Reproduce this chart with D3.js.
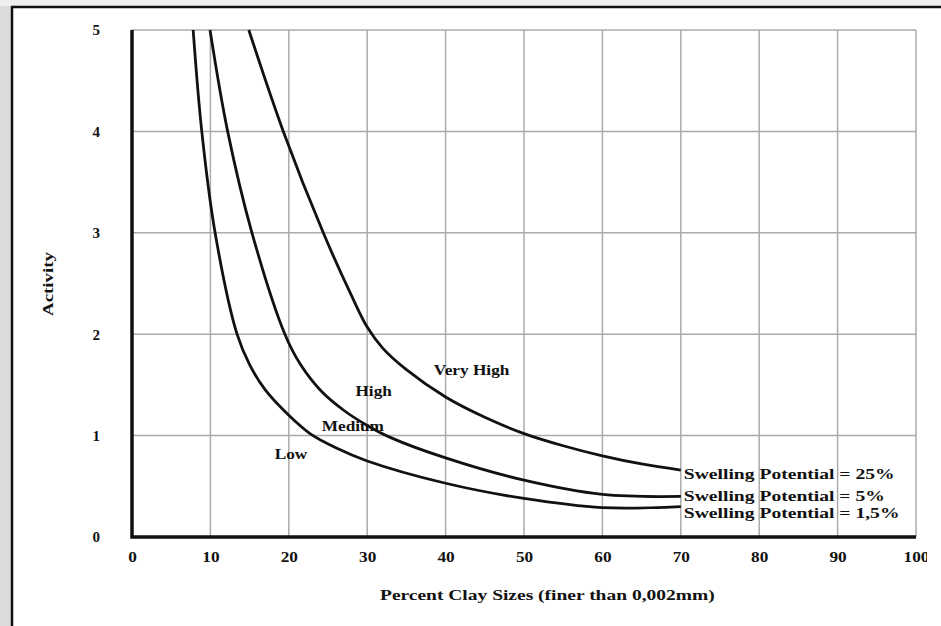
<!DOCTYPE html>
<html>
<head>
<meta charset="utf-8">
<script src="https://cdn.jsdelivr.net/npm/d3@7"></script>
<style>
  body { margin: 0; background: #fff; }
  svg text { font-family: "Liberation Serif", "Times New Roman", serif; font-weight: bold; fill: #111; }
</style>
</head>
<body>
<div id="chart"></div>
<script>
var width = 941,
    height = 626;

// ******* data ******************************* //
var xTicks = [0, 10, 20, 30, 40, 50, 60, 70, 80, 90, 100];
var yTicks = [0, 1, 2, 3, 4, 5];

var lowX  = [7.8, 8.9, 10.6, 13.4, 15, 17, 20, 22.7, 26, 30, 40, 50, 60, 70];
var lowY  = [5, 4, 3, 2, 1.7, 1.45, 1.2, 1.02, 0.88, 0.75, 0.53, 0.38, 0.29, 0.30];
var medX  = [9.95, 12.2, 15.3, 19.5, 21.5, 24, 27, 30, 33, 40, 50, 60, 70];
var medY  = [5, 4, 3, 2, 1.7, 1.45, 1.25, 1.1, 0.98, 0.78, 0.56, 0.42, 0.40];
var highX = [14.9, 19.3, 24.4, 28, 30, 32, 35, 40, 45, 50, 55, 60, 65, 70];
var highY = [5, 4, 3, 2.38, 2.07, 1.86, 1.65, 1.38, 1.18, 1.02, 0.9, 0.8, 0.72, 0.66];

var curveNames = ["Swelling Potential = 1,5%", "Swelling Potential = 5%", "Swelling Potential = 25%"];
var zoneNames = ["Low", "Medium", "High", "Very High"];
var zoneAt = [[18.2, 0.77], [24.2, 1.05], [28.5, 1.39], [38.5, 1.6]];

var margin = {left: 132, top: 30, right: 25, bottom: 89};

var svg = d3.select("#chart").append("svg")
    .attr("width", width)
    .attr("height", height);

// ******* frame ********* //
svg.append("rect").attr("x", 0).attr("y", 0).attr("width", 12).attr("height", height).attr("fill", "#dcdcdc");
svg.append("rect").attr("x", 0).attr("y", 0).attr("width", width).attr("height", 6).attr("fill", "#efefef");
svg.append("path").attr("d", "M12," + height + "V7H" + width)
    .attr("fill", "none").attr("stroke", "#111").attr("stroke-width", 2.5);

var x = d3.scaleLinear().domain([0, 100]).range([margin.left, width - margin.right]);
var y = d3.scaleLinear().domain([0, 5]).range([height - margin.bottom, margin.top]);

// ******* grid ********* //
var grid = svg.append("g").attr("class", "grid");
grid.selectAll("line.v").data(xTicks.slice(1)).enter().append("line")
    .attr("x1", function(d) { return x(d); }).attr("x2", function(d) { return x(d); })
    .attr("y1", y(0)).attr("y2", y(5))
    .attr("stroke", "#ababab").attr("stroke-width", 1.5);
grid.selectAll("line.h").data(yTicks.slice(1)).enter().append("line")
    .attr("x1", x(0)).attr("x2", x(100))
    .attr("y1", function(d) { return y(d); }).attr("y2", function(d) { return y(d); })
    .attr("stroke", "#ababab").attr("stroke-width", 1.5);

// ******* axes ********* //
var xAxis = d3.axisBottom(x).tickValues(xTicks).tickSize(0).tickPadding(14).tickFormat(d3.format("d"));
var yAxis = d3.axisLeft(y).tickValues(yTicks).tickSize(0).tickPadding(32).tickFormat(d3.format("d"));

svg.append("defs").append("clipPath").attr("id", "clip")
    .append("rect").attr("x", 0).attr("y", 0).attr("width", 927).attr("height", height);

var gx = svg.append("g").attr("transform", "translate(0," + y(0) + ")")
    .attr("clip-path", "url(#clip)").call(xAxis);
var gy = svg.append("g").attr("transform", "translate(" + x(0) + ",0)").call(yAxis);
[gx, gy].forEach(function(g) {
    g.select(".domain").remove();
    g.selectAll("text").attr("font-size", 15).attr("font-family", null)
        .style("font-family", "'Liberation Serif', serif").style("font-weight", "bold");
});
gx.selectAll(".tick text").attr("transform", "scale(1.15,1)");

svg.append("path")
    .attr("d", "M" + x(0) + "," + y(5) + "V" + y(0) + "H" + x(100))
    .attr("fill", "none").attr("stroke", "#111").attr("stroke-width", 3.5);

// ******* curves ********* //
var line = d3.line()
    .x(function(d) { return x(d[0]); })
    .y(function(d) { return y(d[1]); })
    .curve(d3.curveCatmullRom.alpha(0.5));

var series = [d3.zip(lowX, lowY), d3.zip(medX, medY), d3.zip(highX, highY)];
svg.append("g").selectAll("path").data(series).enter().append("path")
    .attr("d", line)
    .attr("fill", "none").attr("stroke", "#111").attr("stroke-width", 2.8);

// ******* labels ********* //
function label(txt, px, py, size, sx) {
    svg.append("text")
        .attr("transform", "translate(" + px + "," + py + ") scale(" + sx + ",1)")
        .attr("font-size", size)
        .text(txt);
}

zoneNames.forEach(function(n, i) {
    label(n, x(zoneAt[i][0]), y(zoneAt[i][1]), 15, 1.15);
});

var labelDy = [11, 5, 9];
series.forEach(function(s, i) {
    var last = s[s.length - 1];
    label(curveNames[i], x(last[0]) + 3, y(last[1]) + labelDy[i], 14, 1.4);
});

label("Percent Clay Sizes (finer than 0,002mm)", 380, 600, 15, 1.3);

svg.append("text")
    .attr("transform", "translate(53,284) rotate(-90) scale(1.35,1)")
    .attr("text-anchor", "middle")
    .attr("font-size", 14)
    .text("Activity");
</script>
</body>
</html>
